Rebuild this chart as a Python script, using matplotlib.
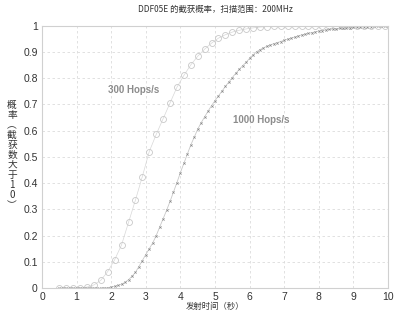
import matplotlib.pyplot as plt

# === Datos ===
x_300 = [0.5, 0.7, 0.9, 1.1, 1.3, 1.5, 1.7, 1.9, 2.1, 2.3, 2.5, 2.7, 2.9, 3.1, 3.3,
         3.5, 3.7, 3.9, 4.1, 4.3, 4.5, 4.7, 4.9, 5.1, 5.3, 5.5, 5.7, 5.9, 6.1, 6.3,
         6.5, 6.7, 6.9, 7.1, 7.3, 7.5, 7.7, 7.9, 8.1, 8.3, 8.5, 8.7, 8.9, 9.1, 9.3,
         9.5, 9.7, 9.9]
p_300 = [0.0, 0.0, 0.0, 0.001, 0.004, 0.012, 0.03, 0.063, 0.108, 0.165, 0.25, 0.335,
         0.425, 0.52, 0.585, 0.645, 0.705, 0.765, 0.81, 0.85, 0.883, 0.91, 0.933,
         0.952, 0.965, 0.975, 0.982, 0.987, 0.991, 0.994, 0.996, 0.997, 0.998, 0.999,
         0.999, 0.999, 1.0, 1.0, 1.0, 1.0, 1.0, 1.0, 1.0, 1.0, 1.0, 1.0, 1.0, 1.0]

x_1000 = [0.5, 0.6, 0.7, 0.8, 0.9, 1.0, 1.1, 1.2, 1.3, 1.4, 1.5, 1.6, 1.7, 1.8, 1.9,
          2.0, 2.1, 2.2, 2.3, 2.4, 2.5, 2.6, 2.7, 2.8, 2.9, 3.0, 3.1, 3.2, 3.3, 3.4,
          3.5, 3.6, 3.7, 3.8, 3.9, 4.0, 4.1, 4.2, 4.3, 4.4, 4.5, 4.6, 4.7, 4.8, 4.9,
          5.0, 5.1, 5.2, 5.3, 5.4, 5.5, 5.6, 5.7, 5.8, 5.9, 6.0, 6.1, 6.2, 6.3, 6.4,
          6.5, 6.6, 6.7, 6.8, 6.9, 7.0, 7.1, 7.2, 7.3, 7.4, 7.5, 7.6, 7.7, 7.8, 7.9,
          8.0, 8.1, 8.2, 8.3, 8.4, 8.5, 8.6, 8.7, 8.8, 8.9, 9.0, 9.1, 9.2, 9.3, 9.4,
          9.5, 9.6, 9.7, 9.8, 9.9, 10.0]
p_1000 = [0.0, 0.0, 0.0, 0.0, 0.0, 0.0, 0.0, 0.0, 0.0, 0.0, 0.0, 0.0, 0.0, 0.001, 0.002,
          0.004, 0.007, 0.010, 0.015, 0.022, 0.032, 0.045, 0.06, 0.082, 0.105, 0.128,
          0.15, 0.172, 0.2, 0.232, 0.264, 0.296, 0.33, 0.366, 0.402, 0.44, 0.475, 0.51,
          0.545, 0.575, 0.605, 0.63, 0.652, 0.674, 0.695, 0.714, 0.732, 0.75, 0.768,
          0.785, 0.802, 0.818, 0.833, 0.847, 0.86, 0.875, 0.888, 0.9, 0.908, 0.915,
          0.921, 0.926, 0.931, 0.935, 0.939, 0.944, 0.948, 0.952, 0.956, 0.96, 0.964,
          0.967, 0.97, 0.973, 0.976, 0.979, 0.981, 0.983, 0.985, 0.987, 0.988, 0.989,
          0.99, 0.991, 0.992, 0.993, 0.994, 0.995, 0.995, 0.996, 0.996, 0.997, 0.997,
          0.998, 0.998, 0.999]

titulo = "DDF05E 的截获概率，扫描范围：200MHz"
etiqueta_x = "发射时间（秒）"
etiqueta_y = ["概", "率", "︵", "截", "获", "数", "大", "于", "1", "0", "︶"]

plt.rcParams['font.family'] = ['Liberation Sans', 'Noto Sans CJK SC', 'DejaVu Sans']
cjk = ['Noto Sans CJK SC', 'DejaVu Sans']

# === Figura ===
fig = plt.figure(figsize=(4.0, 3.23), dpi=100)
ax = fig.add_axes([0.105, 0.108, 0.865, 0.813])

ax.plot(x_300, p_300, color='#d8d8d8', lw=0.5, marker='o', markersize=4.3,
        markerfacecolor='none', markeredgecolor='#c8c8c8', markeredgewidth=0.6)
ax.plot(x_1000, p_1000, color='#c8c8c8', lw=0.6, marker='x', markersize=1.6,
        markeredgecolor='#8a8a8a', markeredgewidth=0.5)

ax.text(2.64, 0.755, "300 Hops/s", ha='center', va='center', fontsize=7,
        fontweight='bold', color='#8c8c8c')
ax.text(6.35, 0.64, "1000 Hops/s", ha='center', va='center', fontsize=7,
        fontweight='bold', color='#8c8c8c')

ax.set_xlim(0, 10)
ax.set_ylim(0, 1)
ax.set_xticks(range(0, 11))
ax.set_yticks([0, 0.1, 0.2, 0.3, 0.4, 0.5, 0.6, 0.7, 0.8, 0.9, 1])
ax.set_yticklabels(['0', '0.1', '0.2', '0.3', '0.4', '0.5', '0.6', '0.7', '0.8', '0.9', '1'])
ax.tick_params(length=0, labelsize=7.5, labelcolor='#333333', pad=3)
ax.grid(True, ls=(0, (3, 3)), color='#dcdcdc', lw=0.6)
for s in ax.spines.values():
    s.set_color('#d0d0d0')
    s.set_linewidth(0.8)

ax.set_title(titulo, fontsize=6, color='#333333', pad=10, family=cjk)
ax.set_xlabel(etiqueta_x, fontsize=6, color='#333333', labelpad=0, family=cjk)

# etiqueta vertical con caracteres apilados
y0 = 0.675
paso = 0.031
for i, c in enumerate(etiqueta_y):
    fig.text(0.03, y0 - i * paso, c, fontsize=7, color='#333333',
             ha='center', va='center', family=cjk)

fig.savefig("out.png", dpi=100, facecolor='white')
